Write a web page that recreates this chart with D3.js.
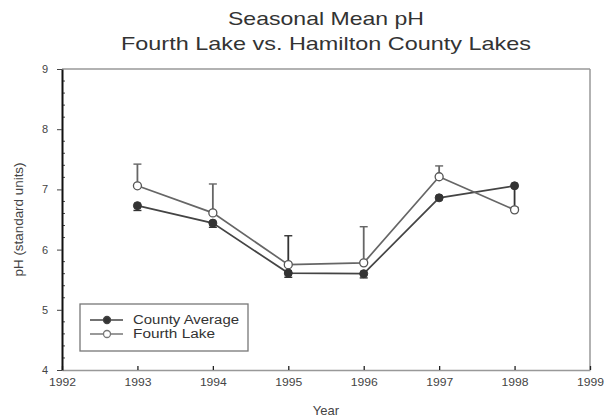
<!DOCTYPE html>
<html lang="en">
<head>
<meta charset="UTF-8">
<title>Seasonal Mean pH</title>
<script src="https://cdn.jsdelivr.net/npm/d3@7"></script>
<style>
  body { margin: 0; background: #fff; }
  svg { font-family: "Liberation Sans", Arial, sans-serif; }
</style>
</head>
<body>
<div id="chart"></div>
<script>
const years = [1993, 1994, 1995, 1996, 1997, 1998];
const countyAvg = [6.73, 6.44, 5.61, 5.60, 6.86, 7.06];
const fourthLake = [7.06, 6.61, 5.75, 5.78, 7.21, 6.66];
const fourthErrUp = [0.36, 0.48, 0, 0.60, 0.18, 0];
const countyErrUp = [0, 0, 0.62, 0, 0, 0];
const countyErrDown = [0.08, 0.07, 0.07, 0.07, 0, 0.36];
const xTicks = [1992, 1993, 1994, 1995, 1996, 1997, 1998, 1999];
const yTicks = [4, 5, 6, 7, 8, 9];

const w = 610, h = 419;
const plotL = 62, plotR = 590, plotT = 69, plotB = 370;

const svg = d3.select("#chart").append("svg")
  .attr("width", w).attr("height", h);

const x = d3.scaleLinear().domain([1992, 1999]).range([plotL, plotR]);
const y = d3.scaleLinear().domain([4, 9]).range([plotB, plotT]);

// titles (stretched a little to match the wide face of the original)
svg.append("text").attr("x", 326).attr("y", 25).attr("text-anchor", "middle")
  .attr("font-size", 19).attr("fill", "#333")
  .attr("textLength", 196).attr("lengthAdjust", "spacingAndGlyphs")
  .text("Seasonal Mean pH");
svg.append("text").attr("x", 326).attr("y", 50).attr("text-anchor", "middle")
  .attr("font-size", 19).attr("fill", "#333")
  .attr("textLength", 410).attr("lengthAdjust", "spacingAndGlyphs")
  .text("Fourth Lake vs. Hamilton County Lakes");

// frame
svg.append("line").attr("x1", plotL).attr("x2", plotR).attr("y1", plotT).attr("y2", plotT)
  .attr("stroke", "#999").attr("stroke-width", 1.5);
svg.append("line").attr("x1", plotR).attr("x2", plotR).attr("y1", plotT).attr("y2", plotB)
  .attr("stroke", "#999").attr("stroke-width", 1.5);

// x axis
const xAxis = d3.axisBottom(x).tickValues(xTicks).tickFormat(d3.format("d"))
  .tickSizeInner(-4).tickSizeOuter(0).tickPadding(9);
const gx = svg.append("g").attr("transform", `translate(0,${plotB})`).call(xAxis);
gx.select(".domain").attr("stroke", "#999").attr("stroke-width", 1.5);
gx.selectAll(".tick line").attr("stroke", "#222").attr("stroke-width", 1.3);
gx.selectAll("text").attr("font-size", 10).attr("fill", "#444")
  .attr("textLength", 27).attr("lengthAdjust", "spacingAndGlyphs");

// y axis minor ticks
const minor = d3.range(4, 9.001, 0.2).filter(v => Math.abs(v - Math.round(v)) > 0.01);
svg.append("g").selectAll("line").data(minor).join("line")
  .attr("x1", plotL).attr("x2", plotL + 3)
  .attr("y1", d => y(d)).attr("y2", d => y(d))
  .attr("stroke", "#444");

const yAxis = d3.axisLeft(y).tickValues(yTicks).tickFormat(d3.format("d"))
  .tickSize(5).tickSizeOuter(0).tickPadding(9);
const gy = svg.append("g").attr("transform", `translate(${plotL},0)`).call(yAxis);
gy.select(".domain").attr("stroke", "#111").attr("stroke-width", 2);
gy.selectAll(".tick line").attr("stroke", "#444");
gy.selectAll("text").attr("font-size", 11).attr("fill", "#444");

// axis titles
svg.append("text").attr("x", 326).attr("y", 415).attr("text-anchor", "middle")
  .attr("font-size", 13).attr("fill", "#444").text("Year");
svg.append("text").attr("transform", `translate(23,${(plotT + plotB) / 2}) rotate(-90)`)
  .attr("text-anchor", "middle").attr("font-size", 12).attr("fill", "#444")
  .attr("textLength", 114).attr("lengthAdjust", "spacingAndGlyphs")
  .text("pH (standard units)");

// error bars
function errBar(xv, y1, y2, color) {
  if (y1 === y2) return;
  svg.append("line").attr("x1", x(xv)).attr("x2", x(xv))
    .attr("y1", y(y1)).attr("y2", y(y2)).attr("stroke", color).attr("stroke-width", 1.8);
  svg.append("line").attr("x1", x(xv) - 4).attr("x2", x(xv) + 4)
    .attr("y1", y(y2)).attr("y2", y(y2)).attr("stroke", color).attr("stroke-width", 1.4);
}
years.forEach((yr, i) => {
  errBar(yr, fourthLake[i], fourthLake[i] + fourthErrUp[i], "#666");
  errBar(yr, countyAvg[i], countyAvg[i] + countyErrUp[i], "#333");
  errBar(yr, countyAvg[i], countyAvg[i] - countyErrDown[i], "#333");
});

const line = d3.line().x((d, i) => x(years[i])).y(d => y(d));

svg.append("path").datum(countyAvg).attr("d", line)
  .attr("fill", "none").attr("stroke", "#444").attr("stroke-width", 1.7);
svg.append("path").datum(fourthLake).attr("d", line)
  .attr("fill", "none").attr("stroke", "#666").attr("stroke-width", 1.7);

svg.append("g").selectAll("circle").data(countyAvg).join("circle")
  .attr("cx", (d, i) => x(years[i])).attr("cy", d => y(d)).attr("r", 4)
  .attr("fill", "#333").attr("stroke", "#333");
svg.append("g").selectAll("circle").data(fourthLake).join("circle")
  .attr("cx", (d, i) => x(years[i])).attr("cy", d => y(d)).attr("r", 4)
  .attr("fill", "#fff").attr("stroke", "#555").attr("stroke-width", 1.3);

// legend
const lg = svg.append("g").attr("transform", "translate(80,304)");
lg.append("rect").attr("width", 168).attr("height", 47)
  .attr("fill", "#fff").attr("stroke", "#777").attr("stroke-width", 1.3);
const items = [
  { name: "County Average", fill: "#333", stroke: "#444", len: 106 },
  { name: "Fourth Lake", fill: "#fff", stroke: "#777", len: 82 }
];
items.forEach((it, i) => {
  const yy = 16 + i * 14;
  lg.append("line").attr("x1", 10).attr("x2", 43).attr("y1", yy).attr("y2", yy)
    .attr("stroke", it.stroke).attr("stroke-width", 1.6);
  lg.append("circle").attr("cx", 27).attr("cy", yy).attr("r", 3.5)
    .attr("fill", it.fill).attr("stroke", it.stroke).attr("stroke-width", 1.3);
  lg.append("text").attr("x", 53).attr("y", yy + 4).attr("font-size", 12)
    .attr("fill", "#333").attr("textLength", it.len).attr("lengthAdjust", "spacingAndGlyphs")
    .text(it.name);
});
</script>
</body>
</html>
